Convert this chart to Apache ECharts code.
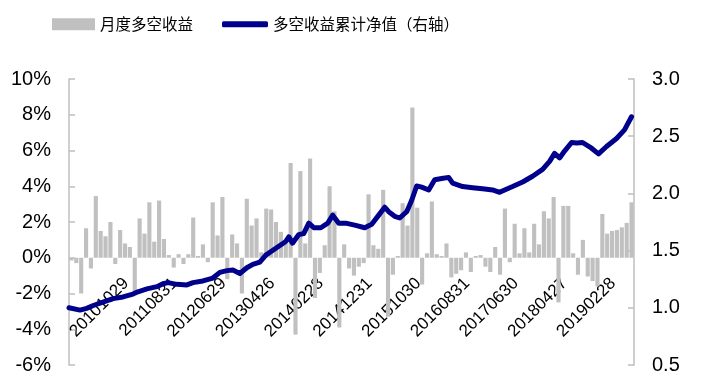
<!DOCTYPE html>
<html>
<head>
<meta charset="utf-8">
<script src="https://cdn.jsdelivr.net/npm/echarts@6/dist/echarts.min.js"></script>
<style>html,body{margin:0;padding:0;background:#fff;}#c{width:708px;height:387px;}</style>
</head>
<body>
<div id="c"></div>
<script>
// Monthly long-short returns (%), Dec 2009 .. Jul 2019
const barValues = [
  -0.15, -0.3, -2.0, 1.65, -0.6, 3.45, 1.5, 1.2, 2.0, -0.35,
  1.55, 0.8, 0.6, -2.0, 2.2, 1.35, 3.1, 0.9, 3.2, 1.05,
  0.15, -0.55, 0.2, -0.35, 0.2, 2.25, 0.1, 0.75, -0.25, 3.1,
  1.25, 3.4, -1.2, 1.3, 0.8, -2.0, 3.3, 1.8, 2.2, 0.3,
  2.75, 2.7, 2.0, 1.45, 0.8, 5.3, -4.3, 4.85, 0.8, 5.55,
  -2.25, -0.85, 0.7, 4.0, 2.6, -3.9, 0.75, -0.6, -1.0, -0.5,
  -0.3, 3.55, 0.7, 0.5, 3.8, -3.3, -0.95, 0.1, 3.05, 1.8,
  8.4, 2.8, -1.5, 0.25, 3.15, 0.2, 0.1, 0.8, -1.1, -0.9,
  -0.7, 0.3, -0.8, 0.1, 0.15, -0.5, -0.8, 0.6, -0.95, 2.75,
  -0.25, 1.9, 0.25, 1.65, 0.3, 1.9, 0.75, 2.6, 2.2, 3.4,
  -2.5, 2.9, 2.9, 0.25, -0.95, 1.0, -1.05, -1.3, -1.6, 2.45,
  1.35, 1.5, 1.55, 1.7, 1.95, 3.1
];
// Month categories (Dec 2009 .. Jul 2019)
const categories = [];
for (let i = 0; i < barValues.length; i++) {
  const m = 11 + i; // 0-based month offset from Jan 2009
  const y = 2009 + Math.floor(m / 12);
  const mm = (m % 12) + 1;
  categories.push(y + (mm < 10 ? '0' : '') + mm);
}
// X tick labels shown every 10 months (indices 10, 20, ... 110)
const tickLabels = ['20101029','20110831','20120629','20130426','20140228','20141231','20151030','20160831','20170630','20180427','20190228'];
// Cumulative NAV (right axis): position in months from start, value
const navT = [0,2.26,3.63,4.98,6.97,9.03,11.08,13.13,14.15,16.0,18.05,19.28,20.31,22.15,24.21,25.44,27.49,29.54,30.97,32.41,33.64,35.08,36.51,37.74,39.18,40.41,42.46,44.51,45.13,45.89,47.18,48.21,49.23,50.26,51.69,53.13,54.15,55.38,56.82,58.87,60.72,62.15,63.59,64.82,65.64,66.87,67.9,69.33,70.36,71.38,72.41,73.85,75.08,76.51,77.95,78.77,80.82,82.87,84.92,86.97,88.41,89.44,91.08,93.13,95.18,97.23,98.67,99.69,100.72,101.74,103.18,104.21,105.44,107.28,108.72,110.36,112.41,114.05,115.49];
const navV = [1.0,0.98,0.995,1.02,1.05,1.08,1.095,1.12,1.14,1.165,1.185,1.21,1.22,1.205,1.2,1.22,1.235,1.26,1.31,1.325,1.33,1.3,1.35,1.38,1.4,1.46,1.52,1.58,1.62,1.565,1.64,1.65,1.74,1.7,1.7,1.74,1.81,1.74,1.74,1.72,1.7,1.73,1.81,1.88,1.84,1.8,1.785,1.84,1.94,2.065,2.055,2.03,2.12,2.13,2.14,2.09,2.06,2.05,2.04,2.03,2.01,2.03,2.06,2.1,2.15,2.21,2.28,2.35,2.31,2.37,2.445,2.44,2.445,2.395,2.345,2.41,2.48,2.555,2.67];
const leftTicks = {min: -6, max: 10, interval: 2};
const rightTicks = {min: 0.5, max: 3.0, interval: 0.5};
const barName = '月度多空收益';
const lineName = '多空收益累计净值（右轴）';

const navData = navT.map((t, i) => [t, navV[i]]);
const FONT = '"Liberation Sans", Arial, sans-serif';
const CJK = '"Noto Sans CJK SC", sans-serif';
const GRID = {left: 69, right: 74, top: 79, bottom: 22};
const H = 387;
// a label-only grid whose bottom edge lies on the 0% level of the left axis
const plotH = H - GRID.top - GRID.bottom;
const zeroFromBottom = plotH * (0 - leftTicks.min) / (leftTicks.max - leftTicks.min);
const labelGrid = {left: GRID.left, right: GRID.right, top: GRID.top, bottom: GRID.bottom + zeroFromBottom};

const chart = echarts.init(document.getElementById('c'), null, {renderer: 'canvas'});
chart.setOption({
  animation: false,
  backgroundColor: '#fff',
  legend: [
    {data: [barName], left: 52, top: 16.5, padding: 0, icon: 'rect', itemWidth: 43, itemHeight: 12, selectedMode: false,
     textStyle: {fontFamily: CJK, fontSize: 15.5, color: '#000'}},
    {data: [{name: lineName, icon: 'roundRect', itemStyle: {color: '#00008C'}}], left: 222, top: 16.5, padding: 0, itemWidth: 46, itemHeight: 6, selectedMode: false,
     textStyle: {fontFamily: CJK, fontSize: 15.5, color: '#000'}}
  ],
  grid: [
    Object.assign({}, GRID),
    Object.assign({}, labelGrid)
  ],
  xAxis: [
    {gridIndex: 0, type: 'category', data: categories, boundaryGap: true,
     axisLine: {show: false, onZero: false}, axisTick: {show: false}, axisLabel: {show: false}},
    {gridIndex: 0, type: 'value', min: 0, max: barValues.length, show: false, axisLine: {onZero: false}},
    {gridIndex: 1, type: 'category', data: categories, boundaryGap: true,
     axisLine: {show: false},
     axisTick: {show: false},
     axisLabel: {rotate: 45, interval: (idx) => idx >= 10 && idx % 10 === 0, margin: 17,
       align: 'right', verticalAlign: 'top',
       formatter: (v, idx) => tickLabels[idx / 10 - 1] || '',
       fontFamily: FONT, fontSize: 17, color: '#000'}}
  ],
  yAxis: [
    {gridIndex: 0, type: 'value', min: leftTicks.min, max: leftTicks.max, interval: leftTicks.interval, position: 'left',
     axisLine: {show: true, onZero: false, lineStyle: {color: '#BFBFBF', width: 1.5}},
     axisTick: {show: true, inside: true, length: 6, lineStyle: {color: '#BFBFBF', width: 1.5}},
     splitLine: {show: false},
     axisLabel: {formatter: '{value}%', margin: 18, fontFamily: FONT, fontSize: 20, color: '#000'}},
    {gridIndex: 0, type: 'value', min: rightTicks.min, max: rightTicks.max, interval: rightTicks.interval, position: 'right',
     axisLine: {show: true, onZero: false, lineStyle: {color: '#BFBFBF', width: 1.5}},
     axisTick: {show: true, inside: true, length: 6, lineStyle: {color: '#BFBFBF', width: 1.5}},
     splitLine: {show: false},
     axisLabel: {formatter: (v) => v.toFixed(1), margin: 18, fontFamily: FONT, fontSize: 20, color: '#000'}},
    {gridIndex: 1, type: 'value', min: 0, max: 1, show: false}
  ],
  series: [
    {name: barName, type: 'bar', data: barValues, xAxisIndex: 0, yAxisIndex: 0,
     barCategoryGap: '15%', itemStyle: {color: '#C0C0C0'}},
    {name: lineName, type: 'line', data: navData, xAxisIndex: 1, yAxisIndex: 1,
     showSymbol: false, symbol: 'none', smooth: false,
     lineStyle: {color: '#00008C', width: 5, cap: 'round', join: 'round'},
     itemStyle: {color: '#00008C'}}
  ]
});
</script>
</body>
</html>
